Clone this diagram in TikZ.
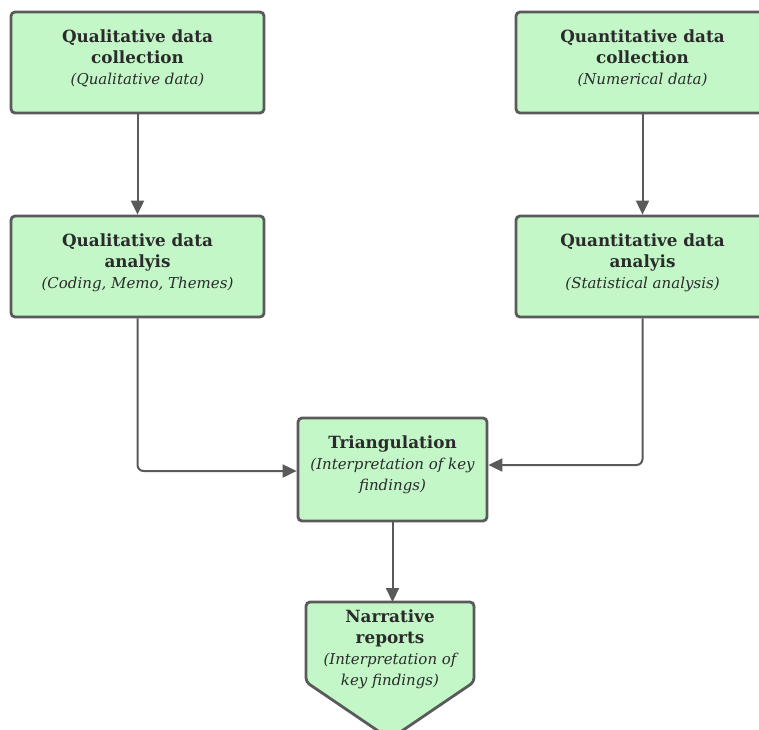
\documentclass[tikz,border=0pt]{standalone}
\usepackage{fontspec}
\setmainfont{DejaVu Serif}
\usetikzlibrary{arrows.meta}
\definecolor{boxfill}{HTML}{C3F7C8}
\definecolor{boxline}{HTML}{5A5A5A}
\definecolor{txt}{HTML}{2B2B2B}
\newcommand{\ttl}[1]{{\bfseries #1}}
\newcommand{\sub}[1]{{\fontsize{15}{21}\selectfont\itshape #1}}
\begin{document}
\begin{tikzpicture}[x=1pt,y=-1pt,
  box/.style={draw=boxline, line width=2.8pt, fill=boxfill, rounded corners=4pt,
    minimum width=253pt, minimum height=101pt, inner sep=0pt},
  txtonly/.style={align=center, text=txt, inner sep=0pt, font=\fontsize{16.8}{21}\selectfont},
  conn/.style={draw=boxline, line width=2pt, -{Triangle[length=14pt,width=13pt]}, rounded corners=6pt}]
\useasboundingbox (0,0) rectangle (759,729);
\clip (0,0) rectangle (759,729);
\node[box] (qlc) at (137.5,62.5) {};
\node[txtonly] at ([yshift=4pt]qlc.center) {\ttl{Qualitative data}\\\ttl{collection}\\\sub{(Qualitative data)}};
\node[box] (qnc) at (642.5,62.5) {};
\node[txtonly] at ([yshift=4pt]qnc.center) {\ttl{Quantitative data}\\\ttl{collection}\\\sub{(Numerical data)}};
\node[box] (qla) at (137.5,266.5) {};
\node[txtonly] at ([yshift=4pt]qla.center) {\ttl{Qualitative data}\\\ttl{analyis}\\\sub{(Coding, Memo, Themes)}};
\node[box] (qna) at (642.5,266.5) {};
\node[txtonly] at ([yshift=4pt]qna.center) {\ttl{Quantitative data}\\\ttl{analyis}\\\sub{(Statistical analysis)}};
\node[box, minimum width=189pt, minimum height=103pt] (tri) at (392.5,469.5) {};
\node[txtonly] at ([yshift=5pt]tri.center) {\ttl{Triangulation}\\\sub{(Interpretation of key}\\\sub{findings)}};
\draw[draw=boxline, line width=2.8pt, fill=boxfill, rounded corners=4pt]
  (306,602) -- (474,602) -- (474,682) -- (390,739) -- (306,682) -- cycle;
\coordinate (nartop) at (390,602);
\node[txtonly] (nar) at (390,649) {\ttl{Narrative}\\\ttl{reports}\\\sub{(Interpretation of}\\\sub{key findings)}};
\draw[conn] (qlc.south) -- (qla.north);
\draw[conn] (qnc.south) -- (qna.north);
\draw[conn] (qla.south) |- ([yshift=-1.5pt]tri.west);
\draw[conn] (qna.south) |- ([yshift=4.5pt]tri.east);
\draw[conn] (tri.south) -- (tri.south |- nartop);
\end{tikzpicture}
\end{document}
